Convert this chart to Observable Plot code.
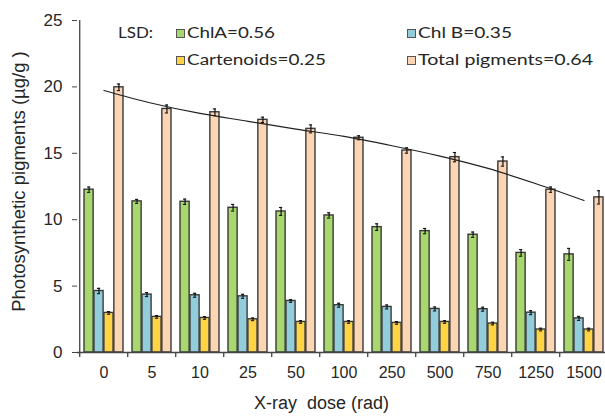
<!DOCTYPE html>
<html>
<head>
<meta charset="utf-8">
<script src="https://cdn.jsdelivr.net/npm/d3@7"></script>
<script src="https://cdn.jsdelivr.net/npm/@observablehq/plot@0.6"></script>
<style>
  html, body { margin: 0; padding: 0; background: #fff; }
  #wrap { position: relative; width: 605px; height: 416px; overflow: hidden; }
  #wrap svg.legend { position: absolute; left: 0; top: 0; }
</style>
</head>
<body>
<div id="wrap"></div>
<script>
// ---------- data ----------
const doses = ["0", "5", "10", "25", "50", "100", "250", "500", "750", "1250", "1500"];
const seriesNames = ["ChlA", "Chl B", "Cartenoids", "Total pigments"];
const lsd = [0.56, 0.35, 0.25, 0.64];
const colors = ["#a8d86d", "#93cddc", "#ffd346", "#fcd5b5"];

const chlA  = [12.26, 11.38, 11.35, 10.90, 10.62, 10.32, 9.44, 9.14, 8.87, 7.50, 7.39];
const chlB  = [4.63, 4.36, 4.31, 4.23, 3.88, 3.56, 3.43, 3.28, 3.26, 3.00, 2.57];
const carot = [2.98, 2.68, 2.60, 2.50, 2.30, 2.30, 2.23, 2.30, 2.18, 1.73, 1.73];
const total = [19.97, 18.34, 18.09, 17.52, 16.84, 16.17, 15.21, 14.71, 14.38, 12.26, 11.68];

const errA  = [0.20, 0.15, 0.20, 0.25, 0.30, 0.20, 0.25, 0.20, 0.20, 0.25, 0.45];
const errB  = [0.20, 0.15, 0.15, 0.15, 0.10, 0.15, 0.15, 0.15, 0.15, 0.15, 0.15];
const errC  = [0.10, 0.10, 0.10, 0.10, 0.10, 0.10, 0.10, 0.10, 0.10, 0.10, 0.10];
const errT  = [0.25, 0.30, 0.25, 0.20, 0.30, 0.15, 0.20, 0.35, 0.35, 0.20, 0.50];

const trend = [19.73, 18.77, 18.00, 17.41, 16.82, 16.27, 15.57, 14.79, 13.86, 12.71, 11.45];

const yTicks = [0, 5, 10, 15, 20, 25];
const xTitle = "X-ray  dose (rad)";
const yTitle = "Photosynthetic pigments (µg/g )";

// ---------- layout ----------
const W = 605, H = 416;
const mL = 77, mR = -6, mT = 20, mB = 64;
const padIn = 0.18, padOut = 0.09;
const step = (W - mL - mR) / (doses.length - padIn + 2 * padOut);
const bw = step * (1 - padIn);
const q = bw / 4;

const values = [chlA, chlB, carot, total];
const errors = [errA, errB, errC, errT];
const rows = doses.flatMap((d, i) => seriesNames.map((s, k) => ({
  dose: d, series: s, k, value: values[k][i], err: errors[k][i]
})));
const trendRows = doses.map((d, i) => ({dose: d, v: trend[i]}));

const barMarks = [];
const errMarks = [];
seriesNames.forEach((s, k) => {
  const data = rows.filter(r => r.k === k);
  barMarks.push(Plot.barY(data, {
    x: "dose", y: "value", fill: colors[k], stroke: "#3a3a3a", strokeWidth: 1.4,
    insetLeft: k * q, insetRight: (3 - k) * q
  }));
  const capL = k * q + q / 2 - 2, capR = (3 - k) * q + q / 2 - 2;
  errMarks.push(
    Plot.ruleX(data, {x: "dose", y1: r => r.value - r.err, y2: r => r.value + r.err,
      dx: (k - 1.5) * q, stroke: "#111", strokeWidth: 1.2}),
    Plot.tickY(data, {x: "dose", y: r => r.value + r.err, insetLeft: capL, insetRight: capR,
      stroke: "#111", strokeWidth: 1.1}),
    Plot.tickY(data, {x: "dose", y: r => r.value - r.err, insetLeft: capL, insetRight: capR,
      stroke: "#111", strokeWidth: 1.1})
  );
});

const chart = Plot.plot({
  width: W, height: H,
  marginLeft: mL, marginRight: mR, marginTop: mT, marginBottom: mB,
  x: {type: "band", domain: doses, paddingInner: padIn, paddingOuter: padOut},
  y: {domain: [0, 25]},
  style: {fontFamily: "'Liberation Sans', Arial, sans-serif", color: "#262626", background: "transparent", overflow: "visible"},
  marks: [
    Plot.axisY({ticks: yTicks, tickSize: 5, tickPadding: 10, fontSize: 17, label: null, stroke: "#444"}),
    Plot.axisX({tickSize: 0, tickPadding: 14, fontSize: 16, label: null}),
    Plot.text([yTitle], {frameAnchor: "left", rotate: -90, textAnchor: "middle", dx: -58, dy: -5, fontSize: 18.5, fill: "#262626"}),
    Plot.text([xTitle], {frameAnchor: "bottom", textAnchor: "middle", dx: -23, dy: 56, fontSize: 18, fill: "#262626"}),
    ...barMarks,
    ...errMarks,
    // y axis line and category boundary ticks
    Plot.ruleX([doses[0]], {x: d => d, y1: 0, y2: 25, dx: -step / 2, stroke: "#444", strokeWidth: 1.3}),
    Plot.ruleY([0], {stroke: "#444", strokeWidth: 1.3}),
    Plot.ruleX(doses, {x: d => d, y1: 0, y2: 0, insetBottom: -5, dx: -step / 2, stroke: "#444", strokeWidth: 1.3}),
    Plot.line(trendRows, {x: "dose", y: "v", curve: "catmull-rom", stroke: "#222", strokeWidth: 1.2})
  ]
});
document.getElementById("wrap").appendChild(chart);

// ---------- legend overlay ----------
const legendItems = seriesNames.map((s, k) => ({label: `${s}=${lsd[k].toFixed(2)}`, color: colors[k]}));
const legendPos = [ // [squareX, squareY, textX, baseline, textWidth]
  [176, 29, 187, 37.7, 88],
  [407, 29, 418, 37.7, 94],
  [176, 56, 187, 65, 139],
  [407, 56, 418, 65, 175]
];
const lg = d3.select("#wrap").append("svg").attr("class", "legend").attr("width", W).attr("height", 80)
  .style("font-family", "Lato, 'Open Sans', sans-serif").style("font-size", "15.5px");
lg.append("text").attr("x", 118).attr("y", 37.7).attr("fill", "#262626")
  .attr("textLength", 35).attr("lengthAdjust", "spacingAndGlyphs").text("LSD:");
legendItems.forEach((it, i) => {
  const [sx, sy, tx, by, tw] = legendPos[i];
  lg.append("rect").attr("x", sx + 0.5).attr("y", sy + 0.5).attr("width", 8).attr("height", 8)
    .attr("fill", it.color).attr("stroke", "#555").attr("stroke-width", 1);
  lg.append("text").attr("x", tx).attr("y", by).attr("fill", "#262626")
    .attr("textLength", tw).attr("lengthAdjust", "spacingAndGlyphs").text(it.label);
});
</script>
</body>
</html>
